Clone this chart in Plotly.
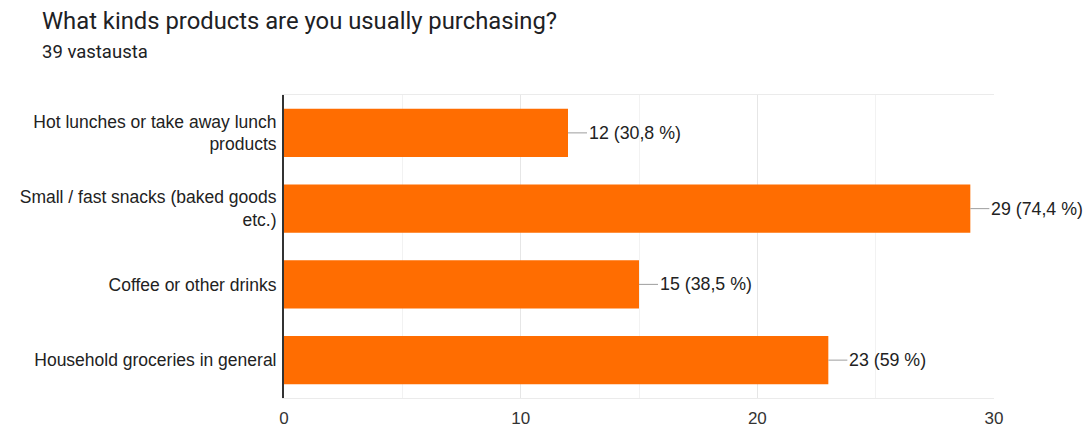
import plotly.graph_objects as go

categories = ["Hot lunches or take away lunch<br>products",
              "Small / fast snacks (baked goods<br>etc.)",
              "Coffee or other drinks",
              "Household groceries in general"]
values = [12, 29, 15, 23]
value_labels = ["12 (30,8 %)", "29 (74,4 %)", "15 (38,5 %)", "23 (59 %)"]
x_ticks = [0, 10, 20, 30]

FONT = "Arial, Liberation Sans, sans-serif"
TFONT = "Roboto, Arial, sans-serif"
PLOT_W = 1086 - 284 - 92
PLOT_H = 428 - 95 - 30

fig = go.Figure()
fig.add_trace(go.Bar(
    y=categories, x=values, orientation="h",
    marker=dict(color="#ff6d01", line=dict(width=0)),
    width=0.64, hoverinfo="skip",
))

for c, v, t in zip(categories, values, value_labels):
    fig.add_annotation(
        x=v, y=c, xref="x", yref="y", text=t,
        showarrow=True, arrowhead=0, arrowwidth=1, arrowcolor="#9e9e9e",
        ax=19, ay=0, xanchor="left", yanchor="middle",
        font=dict(family=FONT, size=17.8, color="#222222"),
        standoff=0, startstandoff=0,
    )

fig.add_annotation(xref="paper", yref="paper", x=(40 - 284) / PLOT_W, y=1 + 74 / PLOT_H,
                   xanchor="left", yanchor="middle", showarrow=False,
                   text="What kinds products are you usually purchasing?",
                   font=dict(family=TFONT, size=23.8, color="#202124"))
fig.add_annotation(xref="paper", yref="paper", x=(40 - 284) / PLOT_W, y=1 + 43 / PLOT_H,
                   xanchor="left", yanchor="middle", showarrow=False,
                   text="39 vastausta",
                   font=dict(family=TFONT, size=18.5, color="#202124"))

fig.update_layout(
    width=1086, height=428,
    margin=dict(l=284, r=92, t=95, b=30),
    paper_bgcolor="white", plot_bgcolor="white",
    showlegend=False,
    bargap=0.36,
    font=dict(family=FONT, size=17, color="#222222"),
)
fig.update_xaxes(
    range=[0, 30], tickvals=x_ticks, ticktext=[str(t) for t in x_ticks],
    showgrid=True, gridcolor="#e6e6e6", gridwidth=1,
    minor=dict(tickvals=[5, 15, 25], showgrid=True, gridcolor="#f2f2f2", gridwidth=1),
    showline=True, linecolor="#ebebeb", linewidth=1, mirror=True,
    zeroline=False, ticks="", ticklen=0, ticklabelstandoff=5,
    tickfont=dict(family=FONT, size=17, color="#333333"),
    fixedrange=True, automargin=False,
)
fig.update_yaxes(
    autorange="reversed", showgrid=False, zeroline=False,
    showline=True, linecolor="#333333", linewidth=2,
    ticks="", ticklabelstandoff=2,
    tickfont=dict(family=FONT, size=17.5, color="#222222"),
    fixedrange=True, automargin=False,
)

fig.write_html("out.html", config={"displayModeBar": False})
